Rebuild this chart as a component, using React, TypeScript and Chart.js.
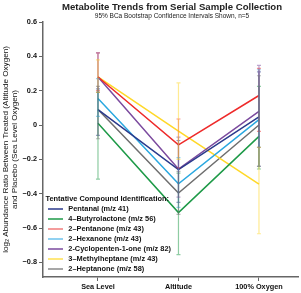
import React, { useEffect, useRef } from "react";
import { Chart, registerables } from "chart.js";

Chart.register(...registerables);

const categories = ["Sea Level", "Altitude", "100% Oxygen"];
const categoryX = [1, 2, 3];
const yTicks = [-0.8, -0.6, -0.4, -0.2, 0, 0.2, 0.4, 0.6];

const compounds = [
  "Pentanal (m/z 41)",
  "4\u2013Butyrolactone (m/z 56)",
  "2\u2013Pentanone (m/z 43)",
  "2\u2013Hexanone (m/z 43)",
  "2-Cyclopenten-1-one (m/z 82)",
  "3\u2013Methylheptane (m/z 43)",
  "2\u2013Heptanone (m/z 58)",
];
const colors = ["#2b3a8c", "#1e9a48", "#ee2a2a", "#2aa8e0", "#7b4a9e", "#ffd828", "#6e6e6e"];
const legendColors = ["#2b3a8c", "#1e9a48", "#f07b7b", "#6cc2ec", "#7b4a9e", "#ffe050", "#8a8a8a"];

const pentanal = [0.09, -0.26, 0.047];
const butyrolactone = [0.01, -0.51, -0.066];
const pentanone = [0.28, -0.115, 0.172];
const hexanone = [0.155, -0.342, 0.031];
const cyclopentenone = [0.28, -0.256, 0.079];
const methylheptane = [0.28, -0.035, -0.344];
const heptanone = [0.09, -0.396, 0.0];

const pentanalLo = [-0.06, -0.45, -0.24];
const pentanalHi = [0.21, -0.09, 0.31];
const butyrolactoneLo = [-0.315, -0.755, -0.256];
const butyrolactoneHi = [0.19, -0.28, 0.225];
const pentanoneLo = [0.2, -0.25, -0.037];
const pentanoneHi = [0.42, 0.035, 0.33];
const hexanoneLo = [0.05, -0.48, -0.13];
const hexanoneHi = [0.27, -0.19, 0.322];
const cyclopentenoneLo = [0.19, -0.42, -0.13];
const cyclopentenoneHi = [0.42, -0.07, 0.347];
const methylheptaneLo = [0.19, -0.2, -0.633];
const methylheptaneHi = [0.38, 0.245, -0.13];
const heptanoneLo = [-0.08, -0.52, -0.24];
const heptanoneHi = [0.225, -0.27, 0.287];

const values = [pentanal, butyrolactone, pentanone, hexanone, cyclopentenone, methylheptane, heptanone];
const lows = [pentanalLo, butyrolactoneLo, pentanoneLo, hexanoneLo, cyclopentenoneLo, methylheptaneLo, heptanoneLo];
const highs = [pentanalHi, butyrolactoneHi, pentanoneHi, hexanoneHi, cyclopentenoneHi, methylheptaneHi, heptanoneHi];

const FONT = "'Liberation Sans', Arial, sans-serif";

function hexA(hex: string, a: number) {
  const r = parseInt(hex.slice(1, 3), 16);
  const g = parseInt(hex.slice(3, 5), 16);
  const b = parseInt(hex.slice(5, 7), 16);
  return `rgba(${r},${g},${b},${a})`;
}

const errorBarPlugin = {
  id: "errorBars",
  afterDatasetsDraw(chart: any) {
    const ctx = chart.ctx;
    const xs = chart.scales.x;
    const ys = chart.scales.y;
    ctx.save();
    for (let s = 0; s < values.length; s++) {
      ctx.strokeStyle = hexA(colors[s], 0.5);
      ctx.lineWidth = 1.2;
      for (let i = 0; i < categoryX.length; i++) {
        const x = xs.getPixelForValue(categoryX[i]);
        const y1 = ys.getPixelForValue(lows[s][i]);
        const y2 = ys.getPixelForValue(highs[s][i]);
        ctx.beginPath();
        ctx.moveTo(x, y1);
        ctx.lineTo(x, y2);
        ctx.moveTo(x - 2, y1);
        ctx.lineTo(x + 2, y1);
        ctx.moveTo(x - 2, y2);
        ctx.lineTo(x + 2, y2);
        ctx.stroke();
      }
    }
    ctx.restore();
  },
};

const titlePlugin = {
  id: "customTitle",
  afterDraw(chart: any) {
    const ctx = chart.ctx;
    const ca = chart.chartArea;
    const cx = (ca.left + ca.right) / 2 + 1.5;
    ctx.save();
    ctx.fillStyle = "#222";
    ctx.textAlign = "center";
    ctx.textBaseline = "alphabetic";
    ctx.font = `bold 9.6px ${FONT}`;
    ctx.fillText("Metabolite Trends from Serial Sample Collection", cx, 10.3);
    ctx.font = `6.5px ${FONT}`;
    ctx.fillText("95% BCa Bootstrap Confidence Intervals Shown, n=5", cx, 17.5);
    ctx.restore();
  },
};

const legendPlugin = {
  id: "customLegend",
  afterDraw(chart: any) {
    const ctx = chart.ctx;
    ctx.save();
    ctx.textBaseline = "middle";
    ctx.textAlign = "left";
    ctx.fillStyle = "#111";
    ctx.font = `bold 7.4px ${FONT}`;
    ctx.fillText("Tentative Compound Identification:", 45.5, 199);
    for (let s = 0; s < compounds.length; s++) {
      const y = 209 + s * 10;
      ctx.strokeStyle = legendColors[s];
      ctx.lineWidth = 1.5;
      ctx.beginPath();
      ctx.moveTo(48, y);
      ctx.lineTo(63, y);
      ctx.stroke();
      ctx.fillStyle = "#111";
      ctx.fillText(compounds[s], 68.3, y);
    }
    ctx.restore();
  },
};

export default function App() {
  const ref = useRef<HTMLCanvasElement>(null);
  useEffect(() => {
    document.body.style.margin = "0";
    const canvas = ref.current!;
    const chart = new Chart(canvas, {
      type: "line",
      data: {
        datasets: values.map((v, s) => ({
          label: compounds[s],
          data: v.map((y, i) => ({ x: categoryX[i], y })),
          borderColor: colors[s],
          backgroundColor: colors[s],
          borderWidth: 1.5,
          pointRadius: 0,
          tension: 0,
          fill: false,
        })),
      },
      options: {
        animation: false,
        responsive: false,
        events: [],
        layout: { padding: { top: 22, right: 3, left: 0, bottom: 0 } },
        plugins: {
          legend: { display: false },
          title: { display: false },
          tooltip: { enabled: false },
        },
        scales: {
          x: {
            type: "linear",
            min: 0.317,
            max: 3.485,
            afterBuildTicks: (scale: any) => {
              scale.ticks = categoryX.map((v) => ({ value: v }));
            },
            afterFit: (scale: any) => {
              scale.height = 16;
            },
            ticks: {
              callback: (v: any) => categories[categoryX.indexOf(v)] ?? "",
              font: { family: FONT, size: 7.3, weight: "bold" },
              color: "#111",
              padding: 2,
              maxRotation: 0,
              autoSkip: false,
            },
            grid: { drawOnChartArea: false, drawTicks: true, tickLength: 4, color: "#666", lineWidth: 1 },
            border: { display: true, color: "#666", width: 1.5 },
          },
          y: {
            type: "linear",
            min: -0.885,
            max: 0.6,
            afterBuildTicks: (scale: any) => {
              scale.ticks = yTicks.map((v) => ({ value: v }));
            },
            afterFit: (scale: any) => {
              scale.width = 43;
            },
            ticks: {
              callback: (v: any) => {
                const n = Number(v);
                if (Math.abs(n) < 1e-9) return "0";
                const s = Math.abs(n).toFixed(1);
                return n < 0 ? "\u2212" + s : s;
              },
              font: { family: FONT, size: 7.3, weight: "bold" },
              color: "#111",
              padding: 2,
            },
            grid: { drawOnChartArea: false, drawTicks: true, tickLength: 4, color: "#666", lineWidth: 1 },
            border: { display: true, color: "#666", width: 1.5 },
            title: {
              display: true,
              text: [
                "log\u2082 Abundance Ratio Between Treated (Altitude Oxygen)",
                "and Placebo (Sea Level Oxygen)",
              ],
              font: { family: FONT, size: 8.1, lineHeight: 1.08 },
              color: "#111",
              padding: { top: 1.8, bottom: 0 },
            },
          },
        },
      },
      plugins: [errorBarPlugin, titlePlugin, legendPlugin],
    });
    return () => chart.destroy();
  }, []);
  return <canvas ref={ref} width={301} height={293} style={{ display: "block" }} />;
}
